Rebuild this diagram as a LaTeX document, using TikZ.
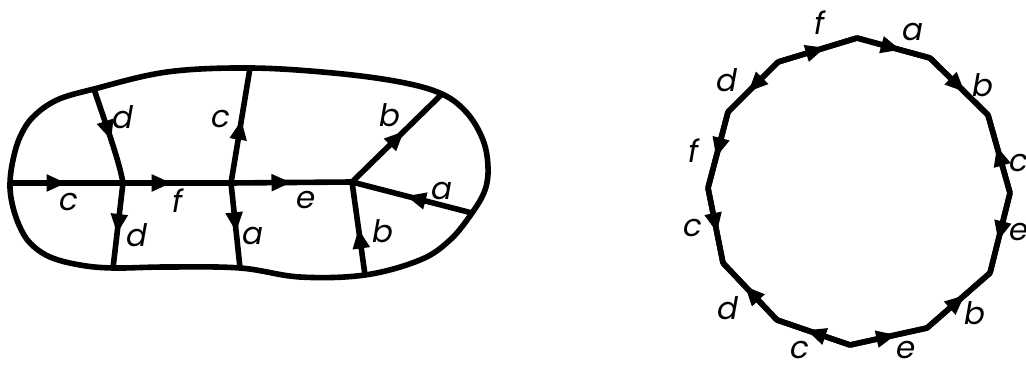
\documentclass[tikz,border=0pt]{standalone}
\usepackage{fontspec}
\setmainfont{Poppins}
\usetikzlibrary{arrows.meta,decorations.markings}
\tikzset{
  % thick ink stroke used for every edge
  edge/.style  = {line width=2.8pt, line join=round},
  % edge with a filled arrowhead part way along it
  fwd/.style   = {edge, postaction={decorate},
                  decoration={markings, mark=at position #1 with
                    {\arrow{Triangle[length=10pt,width=8pt]}}}},
  fwd/.default = 0.55,
  lbl/.style   = {font=\fontsize{15.5}{18}\selectfont\itshape, inner sep=0pt},
}

\begin{document}
\begin{tikzpicture}[x=0.5pt,y=-0.5pt]
\useasboundingbox (0,0) rectangle (1026,367);
% --- the region: vertices and boundary points ----------------------------
\coordinate (L)  at (10,183);
\coordinate (A)  at (123,183);
\coordinate (B)  at (231,183);
\coordinate (C)  at (352,182);
\coordinate (dT) at (94,89);
\coordinate (cT) at (250,68);
\coordinate (bT) at (442,94);
\coordinate (aR) at (472,213);
\coordinate (bB) at (365,275);
\coordinate (aB) at (240,268);
\coordinate (dB) at (113,268);
% --- outer boundary --------------------------------------------------------
\draw[edge] plot[smooth cycle, tension=0.6] coordinates
  {(L) (13,160) (20,137) (33,117) (57,100) (dT) (167,72) (cT) (333,73)
   (400,82) (bT) (467,113) (483,140) (488,167) (485,190) (aR) (450,240)
   (420,260) (bB) (300,277) (aB) (167,267) (dB) (80,265) (50,257) (30,243)
   (19,225) (12,203)};
% --- inner edges -----------------------------------------------------------
\draw[fwd=0.5]  (L) -- (A);
\draw[fwd=0.45] (A) -- (B);
\draw[fwd=0.5]  (B) -- (C);
\draw[fwd=0.55] (dT) .. controls (106,125) and (119,160) .. (A);
\draw[fwd=0.6]  (A) -- (dB);
\draw[fwd=0.55] (B) -- (cT);
\draw[fwd=0.58] (B) -- (aB);
\draw[fwd=0.58] (C) -- (bT);
\draw[fwd=0.55] (aR) -- (C);
\draw[fwd=0.5]  (bB) -- (C);
% --- labels ------------------------------------------------------------------
\node[lbl] (lc1) at (69,202)  {c};
\node[lbl] (lf1) at (178,201) {f};
\node[lbl] (le1) at (306,200) {e};
\node[lbl] (ld1) at (123,117) {d};
\node[lbl] (ld2) at (137,235) {d};
\node[lbl] (lc2) at (221,119) {c};
\node[lbl] (la1) at (253,236) {a};
\node[lbl] (lb1) at (390,115) {b};
\node[lbl] (la2) at (442,191) {a};
\node[lbl] (lb2) at (383,231) {b};
% --- the twelve-sided word polygon ----------------------------------------
\coordinate (p0)  at (857,38);
\coordinate (p1)  at (930,58);
\coordinate (p2)  at (988,115);
\coordinate (p3)  at (1010,193);
\coordinate (p4)  at (990,273);
\coordinate (p5)  at (927,328);
\coordinate (p6)  at (850,345);
\coordinate (p7)  at (777,320);
\coordinate (p8)  at (723,263);
\coordinate (p9)  at (708,188);
\coordinate (p10) at (728,112);
\coordinate (p11) at (778,62);
\draw[edge] (p0) -- (p1) -- (p2) -- (p3) -- (p4) -- (p5) -- (p6) -- (p7)
  -- (p8) -- (p9) -- (p10) -- (p11) -- cycle;
\draw[fwd=0.6]  (p11) -- (p0);
\draw[fwd=0.6]  (p0) -- (p1);
\draw[fwd=0.6]  (p1) -- (p2);
\draw[fwd=0.6]  (p3) -- (p2);
\draw[fwd=0.6]  (p3) -- (p4);
\draw[fwd=0.6]  (p5) -- (p4);
\draw[fwd=0.6]  (p6) -- (p5);
\draw[fwd=0.6]  (p6) -- (p7);
\draw[fwd=0.6]  (p7) -- (p8);
\draw[fwd=0.6]  (p9) -- (p8);
\draw[fwd=0.6]  (p10) -- (p9);
\draw[fwd=0.6]  (p11) -- (p10);
\node[lbl] (qf1) at (820,23)   {f};
\node[lbl] (qa1) at (913,32)   {a};
\node[lbl] (qb1) at (983,85)   {b};
\node[lbl] (qc1) at (1019,163) {c};
\node[lbl] (qe1) at (1019,232) {e};
\node[lbl] (qb2) at (975,313)  {b};
\node[lbl] (qe2) at (906,350)  {e};
\node[lbl] (qc2) at (800,350)  {c};
\node[lbl] (qd1) at (728,308)  {d};
\node[lbl] (qc3) at (693,228)  {c};
\node[lbl] (qf2) at (694,151)  {f};
\node[lbl] (qd2) at (727,80)   {d};
\end{tikzpicture}
\end{document}
